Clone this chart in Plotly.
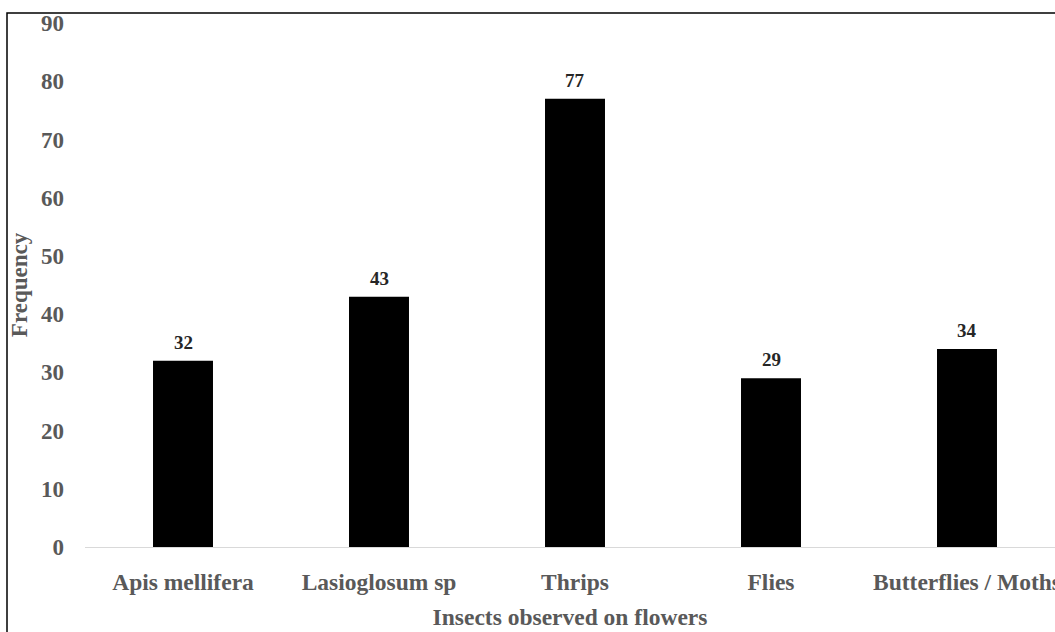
import plotly.graph_objects as go

categories = ["Apis mellifera", "Lasioglosum sp", "Thrips", "Flies", "Butterflies / Moths"]
frequency = [32, 43, 77, 29, 34]
y_ticks = [0, 10, 20, 30, 40, 50, 60, 70, 80, 90]

W, H = 1055, 632
L, R, T, B = 85, 0, 23, 85
pw = W - L - R
ph = H - T - B
step = 196.0
xmax = -0.5 + pw / step

font_family = "Liberation Serif, Times New Roman, serif"
gray = "#595959"

xs = list(range(len(categories)))

fig = go.Figure(go.Bar(
    x=xs,
    y=frequency,
    marker=dict(color="black", line=dict(width=0)),
    width=0.306,
    hoverinfo="y",
))

for xi, v in zip(xs, frequency):
    fig.add_annotation(x=xi, y=v, text="<b>%d</b>" % v, showarrow=False,
                       yanchor="bottom", yshift=6,
                       font=dict(family=font_family, size=19, color="#262626"))

fig.update_layout(
    width=W, height=H,
    margin=dict(l=L, r=R, t=T, b=B, autoexpand=False),
    plot_bgcolor="white", paper_bgcolor="white",
    showlegend=False,
    font=dict(family=font_family, color=gray),
    xaxis=dict(
        range=[-0.5, xmax],
        tickmode="array",
        tickvals=xs,
        ticktext=["<b>%s</b>" % c for c in categories],
        tickfont=dict(size=23.5, color=gray),
        showgrid=False, zeroline=False,
        showline=True, linecolor="#d9d9d9", linewidth=1,
        ticks="", ticklabelstandoff=14, ticklabeloverflow="allow",
        title=dict(text="<b>Insects observed on flowers</b>", font=dict(size=23.5, color=gray), standoff=14),
        automargin=False,
    ),
    yaxis=dict(
        range=[0, 90],
        tickmode="array",
        tickvals=y_ticks,
        ticktext=["<b>%d</b>" % v for v in y_ticks],
        tickfont=dict(size=23, color=gray),
        showgrid=False, zeroline=False, showline=False,
        ticks="", ticklabelstandoff=20,
        title=dict(text="<b>Frequency</b>", font=dict(size=23, color=gray), standoff=6),
        automargin=False,
    ),
)

# Outer frame (chart-area border)
x0 = (7 - L) / pw
y1 = (H - B - 13) / ph
fig.add_shape(type="rect", xref="paper", yref="paper",
              x0=x0, x1=3, y0=-3, y1=y1,
              line=dict(color="black", width=1.5), layer="above")

fig.write_html("out.html",
               config={"displayModeBar": False},
               post_script="document.body.style.margin='0';document.body.style.overflow='hidden';")
